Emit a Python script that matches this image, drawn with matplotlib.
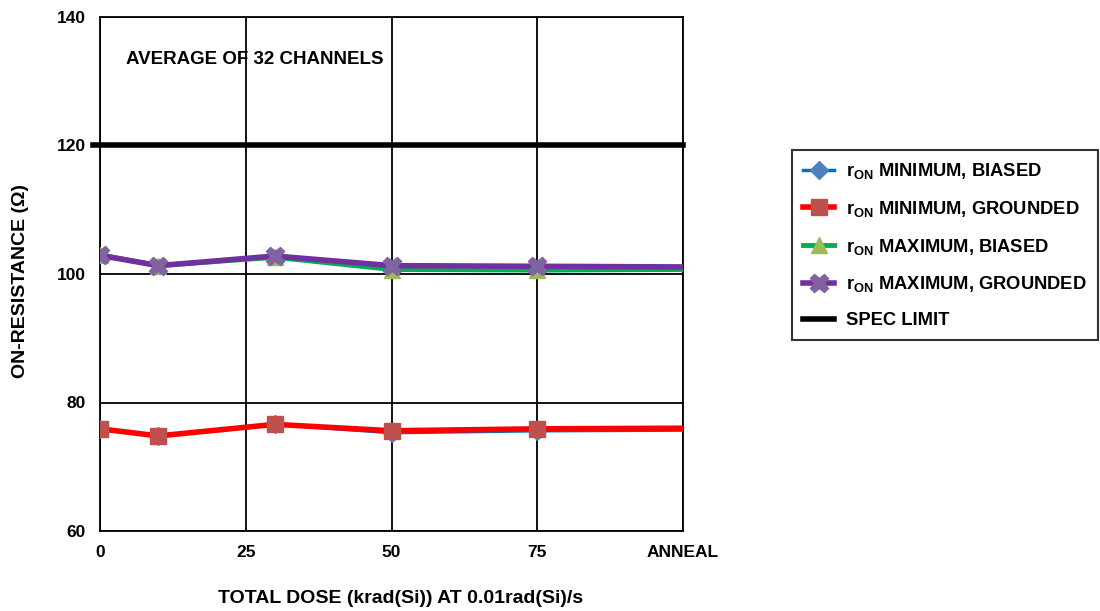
import numpy as np
import matplotlib
matplotlib.use('Agg')
import matplotlib.pyplot as plt

plt.rcParams['font.family'] = ['Liberation Sans', 'DejaVu Sans']
plt.rcParams['font.weight'] = 'bold'
plt.rcParams['mathtext.fontset'] = 'custom'
plt.rcParams['mathtext.rm'] = 'Liberation Sans:bold'
plt.rcParams['mathtext.bf'] = 'Liberation Sans:bold'

# dose points (krad(Si)); 100 stands for the ANNEAL step
dose = [0, 10, 30, 50, 75, 100]
min_biased = [75.9, 74.8, 76.6, 75.3, 75.6, 75.7]
min_grounded = [75.9, 74.8, 76.6, 75.6, 75.9, 76.0]
max_biased = [103.0, 101.3, 102.6, 100.7, 100.6, 100.7]
max_grounded = [102.9, 101.3, 102.8, 101.3, 101.2, 101.1]
spec_limit = 120

xticks = [0, 25, 50, 75, 100]
xticklabels = ['0', '25', '50', '75', 'ANNEAL']

fig = plt.figure(figsize=(11, 6.11), dpi=100)
ax = fig.add_axes([100/1100, 80/611, 583/1100, 514/611])

series = [
    (min_biased, '#0070C0', 'D', '#4F81BD', 9, r'$\mathrm{r_{ON}}$ MINIMUM, BIASED'),
    (min_grounded, '#FF0000', 's', '#C0504D', 12, r'$\mathrm{r_{ON}}$ MINIMUM, GROUNDED'),
    (max_biased, '#00B050', '^', '#9BBB59', 12, r'$\mathrm{r_{ON}}$ MAXIMUM, BIASED'),
    (max_grounded, '#7030A0', 'X', '#8064A2', 13, r'$\mathrm{r_{ON}}$ MAXIMUM, GROUNDED'),
]
lws = [2.5, 4, 3.5, 4]
for (vals, lc, mk, mc, ms, lab), lw in zip(series, lws):
    ax.plot(dose, vals, color=lc, lw=lw, marker=mk, markersize=ms,
            markerfacecolor=mc, markeredgecolor=mc, markevery=[0, 1, 2, 3, 4],
            label=lab, zorder=3)

ax.plot([-1.2, 100], [spec_limit, spec_limit], color='black', lw=4,
        label='SPEC LIMIT', clip_on=False, zorder=4)

ax.set_xlim(0, 100)
ax.set_ylim(60, 140)
ax.set_xticks(xticks)
ax.set_xticklabels(xticklabels)
ax.set_yticks([60, 80, 100, 120, 140])
ax.tick_params(length=0, labelsize=12.5, pad=10)
ax.grid(True, color='black', lw=1.3)
for s in ax.spines.values():
    s.set_color('black')
    s.set_linewidth(1.3)

ax.text(4.4, 133.4, 'AVERAGE OF 32 CHANNELS', fontsize=13.5, fontweight='bold', va='center')
ax.set_xlabel('TOTAL DOSE (krad(Si)) AT 0.01rad(Si)/s', fontsize=14, fontweight='bold', labelpad=22)
ax.set_ylabel('ON-RESISTANCE (Ω)', fontsize=14, fontweight='bold', labelpad=20)
ax.xaxis.label.set_x(0.515)
ax.yaxis.label.set_y(0.486)

leg = fig.legend(loc='upper left', bbox_to_anchor=(792/1100, 1 - 150/611),
                 fontsize=13.2, frameon=True, fancybox=False, edgecolor='black',
                 handlelength=1.7, handletextpad=0.65, borderpad=0.6,
                 labelspacing=0.97, borderaxespad=0)
leg.get_frame().set_linewidth(1.5)

fig.savefig('out.png', dpi=100)
